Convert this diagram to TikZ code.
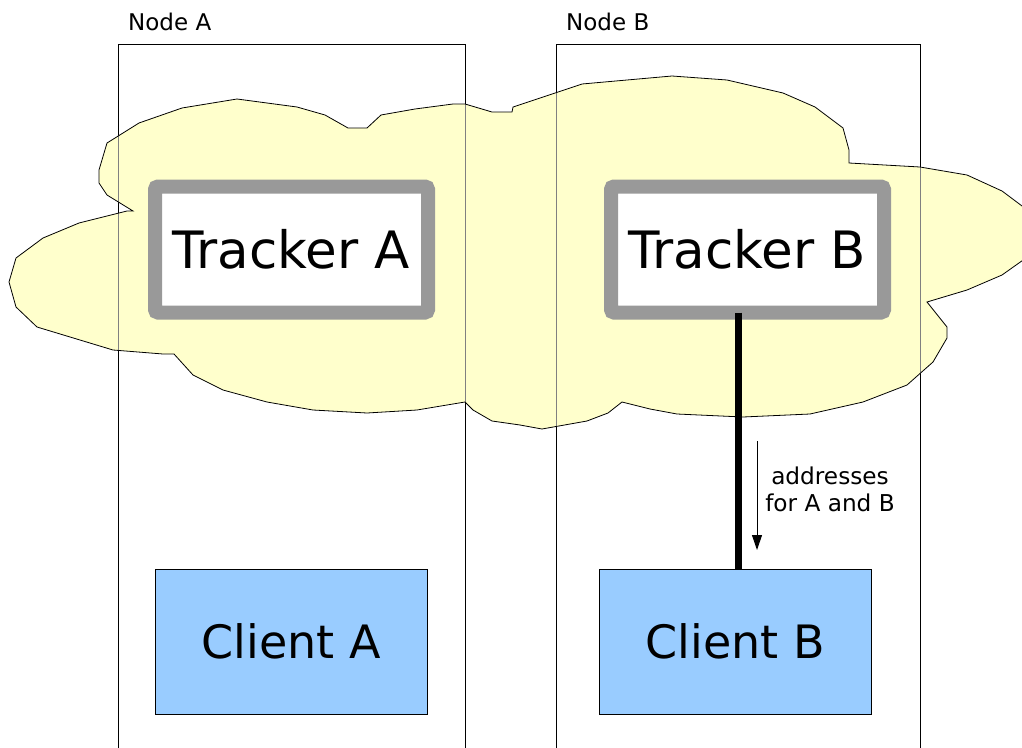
\documentclass[tikz,border=0pt]{standalone}
\usepackage{fontspec}
\setmainfont{DejaVu Sans}
\usetikzlibrary{arrows.meta,calc}
\definecolor{cloudfill}{HTML}{FFFFCC}
\definecolor{trackgray}{HTML}{999999}
\definecolor{clientblue}{HTML}{99CCFF}
\definecolor{hiddenline}{HTML}{808080}
\tikzset{
  hostbox/.style={line width=1pt, draw=black},
  tracker/.style={draw=trackgray, fill=white, line width=14pt, rounded corners=3pt,
    minimum width=273pt, minimum height=126pt, inner sep=0pt, outer sep=0pt,
    font=\fontsize{51.5}{58}\selectfont},
  client/.style={draw=black, fill=clientblue, line width=0.8pt,
    minimum width=272pt, minimum height=145pt, inner sep=0pt, outer sep=0pt,
    font=\fontsize{46}{53}\selectfont},
  hostlabel/.style={anchor=base west, inner sep=0pt, font=\fontsize{23}{27}\selectfont},
  smalllabel/.style={align=center, inner sep=0pt, font=\fontsize{23.2}{27}\selectfont},
}
\begin{document}
\begin{tikzpicture}[x=1pt,y=-1pt]
  \useasboundingbox (0,0) rectangle (1022,747);

  % host frames, open at the bottom
  \draw[hostbox] (118,760) -- (118,44) -- (465,44) -- (465,760);
  \draw[hostbox] (556,760) -- (556,44) -- (920,44) -- (920,760);
  \node[hostlabel] (labA) at (128,30) {Node A};
  \node[hostlabel] (labB) at (566,30) {Node B};

  % the shared cloud outline
  \def\cloudpath{(107,143) -- (139,123) -- (182,108) -- (237,99) -- (297,107) -- (325,115)
    -- (348,128) -- (367,128) -- (381,115) -- (415,109) -- (453,104) -- (465,104)
    -- (492,112) -- (512,112) -- (513,107) -- (555,93) -- (582,84) -- (672,76)
    -- (727,80) -- (783,93) -- (815,107) -- (843,128) -- (849,150) -- (849,163)
    -- (920,167) -- (967,175) -- (1002,191) -- (1026,209) -- (1026,258)
    -- (1002,275) -- (967,290) -- (927,302) -- (947,327) -- (947,338) -- (933,362)
    -- (907,385) -- (863,402) -- (810,414) -- (743,417) -- (677,414) -- (650,409)
    -- (622,402) -- (608,413) -- (587,421) -- (542,429) -- (520,425) -- (492,421)
    -- (473,410) -- (465,402) -- (417,410) -- (367,413) -- (313,410) -- (267,402)
    -- (223,390) -- (193,375) -- (174,354) -- (163,354) -- (113,350) -- (37,327)
    -- (16,307) -- (9,282) -- (16,258) -- (43,238) -- (79,223) -- (127,211)
    -- (133,211) -- (107,195) -- (99,183) -- (99,170) -- cycle}
  \fill[cloudfill] \cloudpath;
  % frame edges seen through the cloud
  \begin{scope}
    \clip \cloudpath;
    \draw[line width=1pt, draw=hiddenline] (118,0) -- (118,747) (465,0) -- (465,747)
      (556,0) -- (556,747) (920,0) -- (920,747);
  \end{scope}
  \draw[line width=0.8pt] \cloudpath;

  % trackers and clients
  \node[tracker] (trackA) at (291.5,249.5) {Tracker A};
  \node[tracker] (trackB) at (747.5,249.5) {Tracker B};
  \node[client] (clientA) at (291,641.5) {Client A};
  \node[client] (clientB) at (735,641.5) {Client B};

  % link from tracker B down to client B
  \coordinate (linkx) at (738,0);
  \draw[line width=7pt] (trackB.south -| linkx) -- (clientB.north -| linkx);

  % direction of the address list
  \coordinate (arrTop) at (757,441);
  \coordinate (arrBot) at (757,550);
  \draw[line width=1pt, -{Triangle[length=15pt,width=10pt]}] (arrTop) -- (arrBot);
  \node[smalllabel] (addr) at (830,489) {addresses\\for A and B};
\end{tikzpicture}
\end{document}
